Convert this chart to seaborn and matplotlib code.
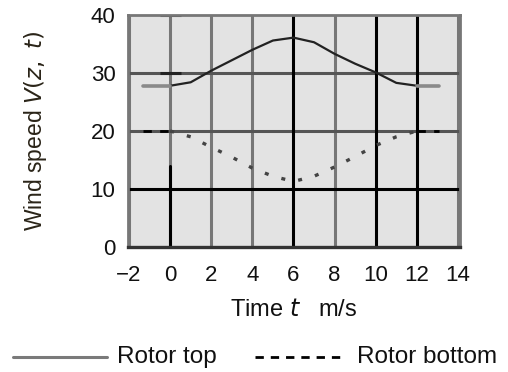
import matplotlib
matplotlib.use("Agg")
import matplotlib.pyplot as plt
from matplotlib.lines import Line2D
import seaborn as sns
import pandas as pd

# ---- data ----
time = [0, 1, 2, 3, 4, 5, 6, 7, 8, 9, 10, 11, 12]
rotor_top = [27.8, 28.4, 30.4, 32.2, 34.0, 35.6, 36.1, 35.3, 33.3, 31.6, 30.1, 28.3, 27.8]
rotor_bottom = [20.0, 19.0, 17.2, 15.5, 13.6, 12.2, 11.3, 12.2, 13.8, 15.6, 17.5, 19.0, 20.0]
lead_t = [-1.3, 0]
tail_t = [12, 13.1]
top_flat = [27.8, 27.8]
bottom_flat = [20.0, 20.0]
xticks = [-2, 0, 2, 4, 6, 8, 10, 12, 14]
yticks = [0, 10, 20, 30, 40]

sns.set_style("white")
plt.rcParams['font.family'] = ['Liberation Sans', 'DejaVu Sans']

fig = plt.figure(figsize=(5.08, 3.72), dpi=100)
ax = fig.add_axes([128/508, 1-247/372, (460-128)/508, (247-15)/372])
ax.set_facecolor("#e3e3e3")
ax.set_xlim(-2.05, 14.1)
ax.set_ylim(0, 40)

gray = "#777777"
# grid lines
for x in [-2, 2, 4, 8, 14]:
    ax.axvline(x, color=gray, lw=2.2, zorder=1)
ax.axvline(0, color=gray, lw=2.2, zorder=1)
ax.axvline(0, ymin=0, ymax=14/40, color="black", lw=2.2, zorder=1.5)
for x in [6, 10, 12]:
    ax.axvline(x, color="black", lw=2.2, zorder=1.5)
for y in [20, 30]:
    ax.axhline(y, color="#555555", lw=2.2, zorder=1)
ax.axhline(10, color="black", lw=2.2, zorder=1.5)
ax.hlines([40, 30], -0.5, 0.55, color="#222222", lw=2.2, zorder=1.6)

df_top = pd.DataFrame({"t": time, "v": rotor_top})
df_bot = pd.DataFrame({"t": time, "v": rotor_bottom})
sns.lineplot(data=df_top, x="t", y="v", ax=ax, color="#222222", lw=1.6, zorder=3)
sns.lineplot(x=lead_t, y=top_flat, ax=ax, color="#8a8a8a", lw=2.6, zorder=3)
sns.lineplot(x=tail_t, y=top_flat, ax=ax, color="#8a8a8a", lw=2.6, zorder=3)
sns.lineplot(data=df_bot, x="t", y="v", ax=ax, color="#444444", lw=2.4,
             linestyle=(0, (1.2, 4.0)), zorder=3)
sns.lineplot(x=lead_t, y=bottom_flat, ax=ax, color="black", lw=2.0,
             linestyle=(0, (3, 3)), zorder=3)
sns.lineplot(x=tail_t, y=bottom_flat, ax=ax, color="black", lw=2.0,
             linestyle=(0, (3, 3)), zorder=3)

for s in ["top", "right", "left"]:
    ax.spines[s].set_color(gray)
    ax.spines[s].set_linewidth(2.0)
ax.spines["bottom"].set_color("#333333")
ax.spines["bottom"].set_linewidth(2.4)

ax.set_xticks(xticks)
ax.set_xticklabels(["\u22122" if v < 0 else str(v) for v in xticks])
ax.set_yticks(yticks)
ax.tick_params(axis="x", length=4, width=1.5, color=gray, pad=9, labelsize=16,
               labelcolor="#111111")
ax.tick_params(axis="y", length=0, pad=9, labelsize=16, labelcolor="#111111")
ax.set_xlabel(r"Time $t$   m/s", fontsize=17, labelpad=9, color="#111111")
ax.set_ylabel(r"Wind speed $V(z,\ t)$", fontsize=16.5, labelpad=30, color="#2a2418")

# legend below the axes
yl = 1 - 357/372
fig.add_artist(Line2D([13/508, 107/508], [yl, yl], color="#7a7a7a", lw=2.2))
fig.text(117/508, yl, "Rotor top", fontsize=17.5, va="center", ha="left", color="#111111")
fig.add_artist(Line2D([255/508, 345/508], [yl, yl], color="black", lw=2.0,
                      linestyle=(0, (3, 2.5))))
fig.text(357/508, yl, "Rotor bottom", fontsize=17.5, va="center", ha="left", color="#111111")

fig.savefig("out.png", dpi=100)
